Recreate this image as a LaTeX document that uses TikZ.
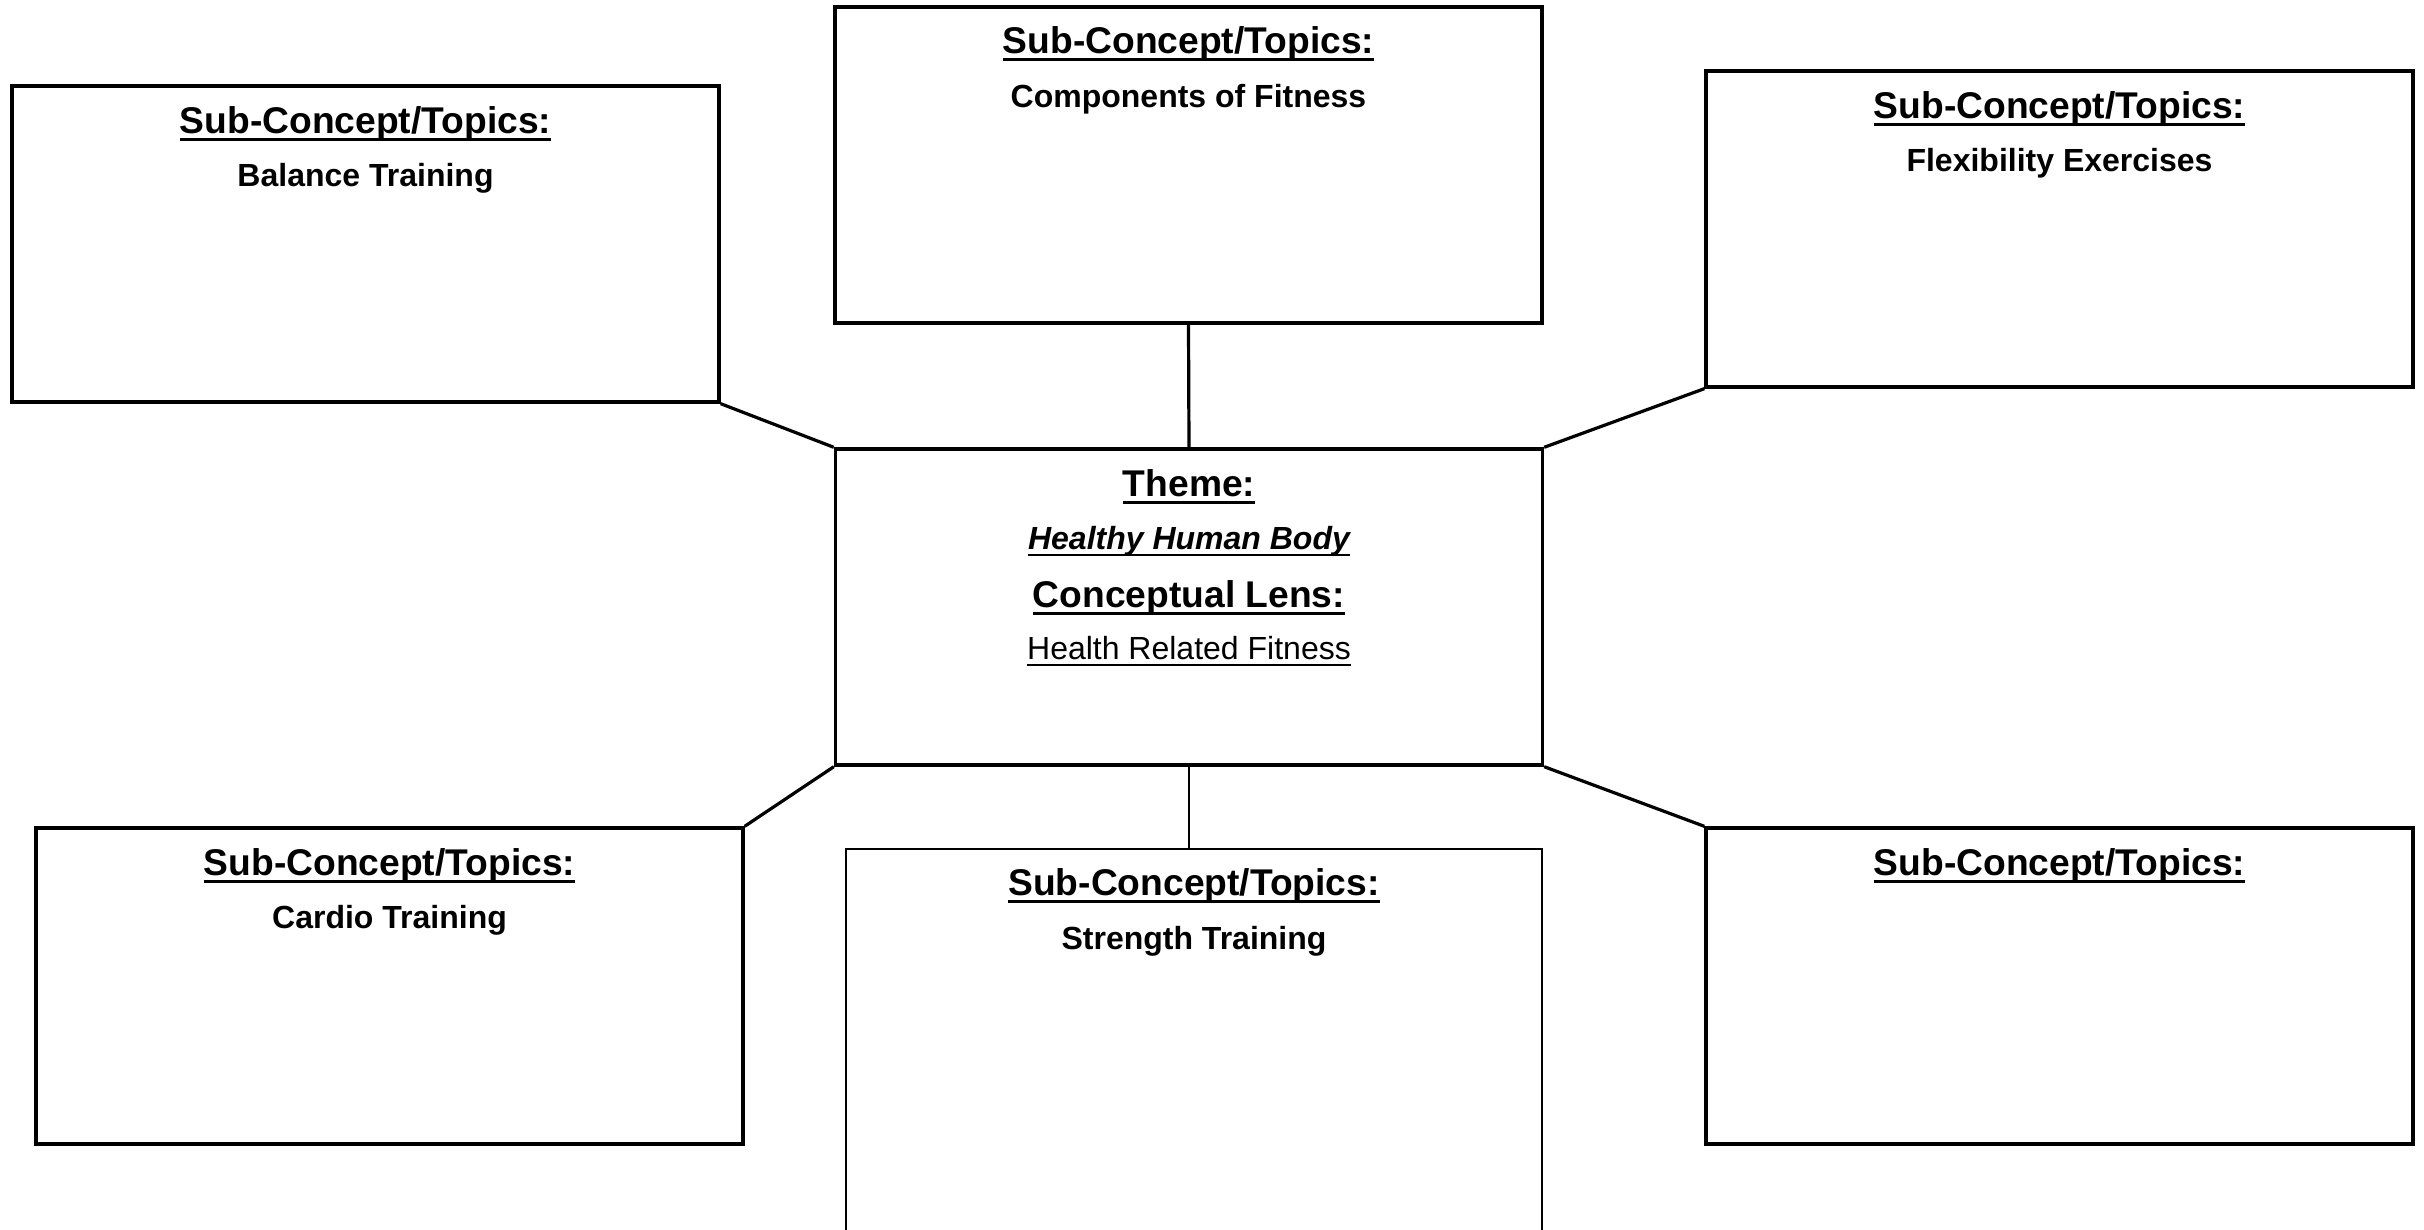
\documentclass[tikz,border=0pt]{standalone}
\usepackage{fontspec}
\setmainfont{Liberation Sans}
\newsavebox\ulbox
\newcommand{\myul}[2][0.08em]{\sbox\ulbox{#2}\rlap{\rule[-0.2em]{\wd\ulbox}{#1}}\usebox\ulbox}
\tikzset{
  box/.style={draw=black, line width=0.85pt, rectangle, minimum width=176.75pt, minimum height=79pt, inner sep=0pt},
  thinbox/.style={draw=black, line width=0.35pt, rectangle, minimum width=174pt, minimum height=125pt, inner sep=0pt},
  headtxt/.style={anchor=base, inner sep=0pt, font=\fontsize{9.3pt}{11pt}\selectfont\bfseries},
  subtxt/.style={anchor=base, inner sep=0pt, font=\fontsize{8pt}{10pt}\selectfont\bfseries},
  plaintxt/.style={anchor=base, inner sep=0pt, font=\fontsize{8pt}{10pt}\selectfont},
  link/.style={draw=black, line width=0.8pt},
  thinlink/.style={draw=black, line width=0.35pt}
}
\begin{document}
\begin{tikzpicture}[x=0.25pt, y=-0.25pt]
\clip (0,0) rectangle (2424,1230);
\fill[white] (0,0) rectangle (2424,1230);
% boxes
\node[box] (tl) at (365.5,244) {};
\node[box] (tc) at (1188.5,165) {};
\node[box] (tr) at (2059.5,229) {};
\node[box] (c) at (1189,607) {};
\node[box] (bl) at (389.5,986) {};
\node[box] (br) at (2059.5,986) {};
\node[thinbox] (bc) at (1194,1099) {};
% texts
\node[headtxt] (tlh) at ([yshift=-12.25pt]tl.north) {\myul{Sub-Concept/Topics:}};
\node[subtxt] (tls) at ([yshift=-25.65pt]tl.north) {Balance Training};
\node[headtxt] (tch) at ([yshift=-12.1pt]tc.north) {\myul{Sub-Concept/Topics:}};
\node[subtxt] (tcs) at ([yshift=-25.65pt]tc.north) {Components of Fitness};
\node[headtxt] (trh) at ([yshift=-12.25pt]tr.north) {\myul{Sub-Concept/Topics:}};
\node[subtxt] (trs) at ([yshift=-25.65pt]tr.north) {Flexibility Exercises};
\node[headtxt] (ch1) at ([yshift=-12.25pt]c.north) {\myul{Theme:}};
\node[subtxt] (ch2) at ([yshift=-25.65pt]c.north) {\myul[0.07em]{\itshape Healthy Human Body}};
\node[headtxt] (ch3) at ([yshift=-40pt]c.north) {\myul{Conceptual Lens:}};
\node[plaintxt] (ch4) at ([yshift=-53.15pt]c.north) {\myul[0.06em]{Health Related Fitness}};
\node[headtxt] (blh) at ([yshift=-12.25pt]bl.north) {\myul{Sub-Concept/Topics:}};
\node[subtxt] (bls) at ([yshift=-25.65pt]bl.north) {Cardio Training};
\node[headtxt] (bch) at ([yshift=-11.9pt]bc.north) {\myul{Sub-Concept/Topics:}};
\node[subtxt] (bcs) at ([yshift=-25.25pt]bc.north) {Strength Training};
\node[headtxt] (brh) at ([yshift=-12.25pt]br.north) {\myul{Sub-Concept/Topics:}};
% connectors
\draw[link] (tl.south east) -- (c.north west);
\draw[link] (tc.south) -- (c.north);
\draw[link] (tr.south west) -- (c.north east);
\draw[link] (bl.north east) -- (c.south west);
\draw[link] (c.south east) -- (br.north west);
\draw[thinlink] (c.south) -- (c.south |- bc.north);
\end{tikzpicture}
\end{document}
